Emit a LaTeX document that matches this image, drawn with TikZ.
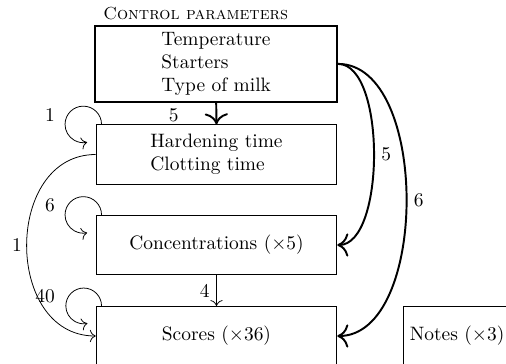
\documentclass[tikz,border=0pt]{standalone}
\usetikzlibrary{arrows.meta}
\begin{document}
\begin{tikzpicture}[x=0.515pt,y=0.515pt,
  box/.style={draw, minimum width=124pt, minimum height=30.6pt, inner sep=3.33pt},
  cpbox/.style={draw, line width=1pt, minimum width=124.5pt, minimum height=39pt, align=left},
  thickarrow/.style={-{To[scale=1.5]}, line width=1pt},
  thinarrow/.style={-{To[scale=1.2]}},
  looplabel/.style={anchor=east}]
\clip (0,0) rectangle (506,-364);
% nodes
\node[cpbox] (cp) at (216.2,-63.9) {Temperature\\Starters\\Type of milk};
\node[anchor=base west, inner sep=0pt] (cptitle) at (103,-19.4) {\small\textsc{Control parameters}};
\node[box, align=left] (hard) at (216.5,-154.5) {Hardening time\\Clotting time};
\node[box] (conc) at (216.5,-245) {Concentrations ($\times$5)};
\node[box] (scores) at (216.5,-336) {Scores ($\times$36)};
\node[box, minimum width=0pt, anchor=west] (notes) at (403,-336) {Notes ($\times$3)};
% straight arrows
\draw[thickarrow] (cp.south) -- (hard.north) node[midway, xshift=-22pt, yshift=-1pt] {5};
\draw[thinarrow] (conc.south) -- (scores.north) node[midway, xshift=-6pt] {4};
% long curves
\draw[thinarrow] (hard.west) to[out=180,in=180,looseness=1.3] node[left, xshift=1pt] {1} (scores.west);
\draw[thickarrow] (cp.east) to[out=0,in=0,looseness=0.68] node[right] {5} (conc.east);
\draw[thickarrow] (cp.east) to[out=0,in=0,looseness=0.86] node[right] {6} (scores.east);
% self loops
\draw[thinarrow] ([xshift=3pt]hard.north west) arc[start angle=0, end angle=282, radius=9.4pt];
\node[looplabel] (l1) at ([shift={(-34,9)}]hard.north west) {1};
\draw[thinarrow] ([xshift=3pt]conc.north west) arc[start angle=0, end angle=282, radius=9.4pt];
\node[looplabel] (l6) at ([shift={(-34,10)}]conc.north west) {6};
\draw[thinarrow] ([xshift=3pt]scores.north west) arc[start angle=0, end angle=282, radius=9.2pt];
\node[looplabel] (l40) at ([shift={(-34,9.3)}]scores.north west) {40};
\end{tikzpicture}
\end{document}
